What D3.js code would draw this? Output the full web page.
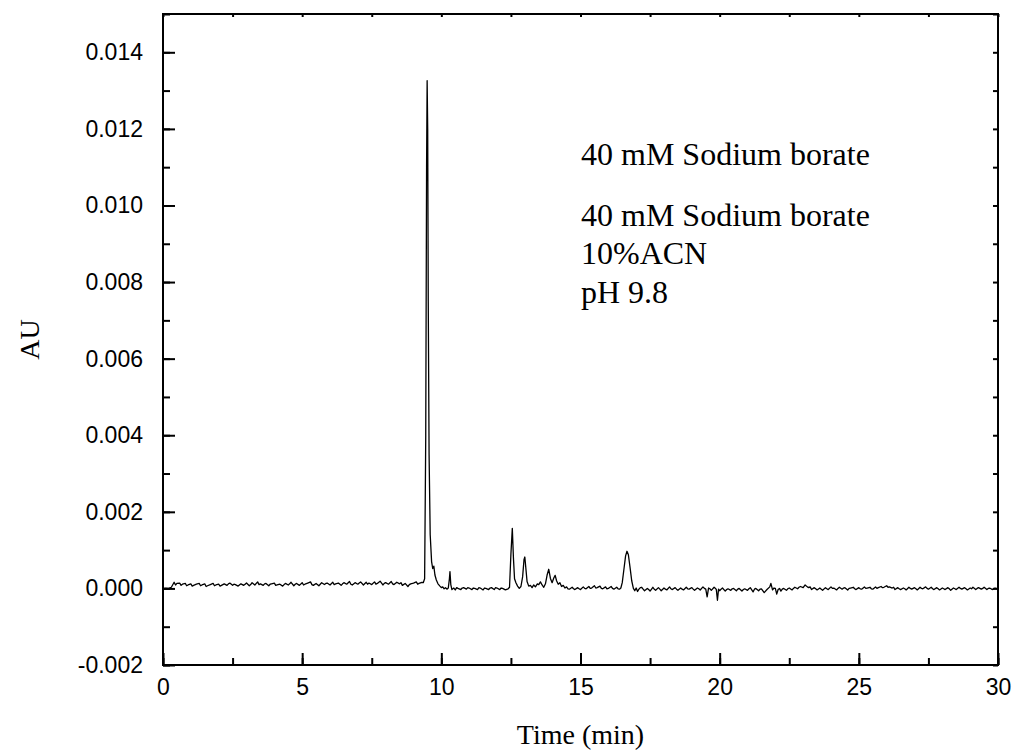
<!DOCTYPE html>
<html>
<head>
<meta charset="utf-8">
<script src="https://cdn.jsdelivr.net/npm/d3@7"></script>
<style>
  body { margin: 0; background: #fff; }
  .tick text { font-family: Arial, "Liberation Sans", sans-serif; font-size: 23px; fill: #000; }
  .domain { display: none; }
</style>
</head>
<body>
<div class="chart"></div>
<script>
// chart values
const xTicks = [0, 5, 10, 15, 20, 25, 30];
const yTicks = [-0.002, 0, 0.002, 0.004, 0.006, 0.008, 0.010, 0.012, 0.014];
const notes = ['40 mM Sodium borate', '40 mM Sodium borate', '10%ACN', 'pH 9.8'];

// [time (min), AU]
const trace = [
  [0,0.0],[0.1,0.00001],[0.2,0.0],[0.3,0.00003],[0.4,0.00016],[0.45,0.00009],[0.5,0.00013],[0.6,0.00014],[0.65,0.00008],[0.7,0.00011],
  [0.8,0.00013],[0.85,0.00007],[0.9,0.00009],[1.0,0.00012],[1.05,0.00006],[1.1,0.00008],[1.2,0.00011],[1.3,0.00013],[1.35,0.00007],[1.4,0.00009],
  [1.5,0.00012],[1.55,0.00005],[1.6,0.00007],[1.7,0.0001],[1.8,0.00013],[1.85,0.00007],[1.9,0.00009],[2.0,0.00011],[2.05,0.00006],[2.1,0.00008],
  [2.2,0.00012],[2.3,0.00008],[2.35,0.00012],[2.4,0.00014],[2.5,0.00008],[2.55,0.00011],[2.6,0.0001],[2.7,0.00006],[2.8,0.00012],
  [2.9,0.00008],[2.95,0.00011],[3.0,0.00014],[3.1,0.00007],[3.15,0.0001],[3.2,0.00015],[3.3,0.00009],[3.4,0.00017],[3.45,0.0001],[3.5,0.00012],
  [3.6,0.00008],[3.65,0.00012],[3.7,0.00013],[3.8,0.00007],[3.85,0.00011],[3.9,0.00012],[4.0,0.00014],[4.05,0.00008],[4.1,0.00009],[4.2,0.00011],
  [4.3,0.00006],[4.35,0.0001],[4.4,0.00013],[4.5,0.00009],[4.55,0.00012],[4.6,0.00016],[4.7,0.00007],[4.75,0.00011],[4.8,0.00013],[4.9,0.00008],
  [5.0,0.00015],[5.05,0.00009],[5.1,0.00011],[5.2,0.00014],[5.3,0.00017],[5.35,0.0001],[5.4,0.00008],[5.5,0.00013],[5.6,0.00007],[5.65,0.00011],
  [5.7,0.00015],[5.8,0.0001],[5.85,0.00013],[5.9,0.00014],[6.0,0.00009],[6.1,0.00016],[6.15,0.0001],[6.2,0.00012],[6.3,0.00014],
  [6.4,0.00008],[6.45,0.00012],[6.5,0.00015],[6.6,0.00011],[6.7,0.00018],[6.75,0.00011],[6.8,0.00009],[6.9,0.00015],[7.0,0.00011],[7.05,0.00014],
  [7.1,0.00017],[7.2,0.00009],[7.3,0.00016],[7.35,0.00011],[7.4,0.00014],[7.5,0.0001],[7.6,0.00017],[7.65,0.00011],[7.7,0.00013],
  [7.8,0.00019],[7.9,0.00009],[7.95,0.00013],[8.0,0.00015],[8.1,0.00011],[8.2,0.00018],[8.25,0.00012],[8.3,0.0001],[8.4,0.00016],
  [8.5,0.00012],[8.55,0.00015],[8.6,0.00008],[8.7,0.00013],[8.8,0.00005],[8.85,0.0001],[8.9,0.00012],[9.0,0.00014],[9.1,0.00017],
  [9.15,0.00011],[9.2,0.00013],[9.3,0.00016],[9.35,0.00015],
  [9.40,0.00025],[9.44,0.004],[9.47,0.011],[9.49,0.01326],[9.51,0.012],[9.53,0.0075],[9.56,0.0035],
  [9.60,0.0014],[9.65,0.0007],[9.69,0.00052],[9.73,0.00058],[9.77,0.00035],[9.82,0.00022],
  [9.88,0.00012],[9.95,0.00006],[10.0,0.00002],[10.05,0.00004],[10.1,-0.00001],[10.15,0.00002],
  [10.2,-0.00002],[10.25,0.00001],[10.29,0.00025],[10.31,0.00044],[10.34,0.0001],[10.38,-0.00003],
  [10.45,0.00001],[10.5,-0.00004],[10.55,0.00002],[10.6,0.0],[10.7,-0.00003],[10.75,0.00001],[10.8,0.00002],[10.9,-0.00002],
  [10.95,0.00002],[11.0,0.00001],[11.1,-0.00003],[11.15,0.00001],[11.2,0.0],[11.3,-0.00003],[11.35,0.00002],[11.4,0.00001],[11.5,-0.00004],
  [11.55,0.00001],[11.6,0.0],[11.7,-0.00003],[11.75,0.00001],[11.8,0.00002],[11.9,-0.00003],[11.95,0.00002],[12.0,0.00001],[12.1,-0.00003],
  [12.15,0.00001],[12.2,0.0],[12.3,-0.00004],[12.4,-0.00001],[12.45,0.00003],
  [12.5,0.0009],[12.55,0.00157],[12.59,0.0008],[12.63,0.00025],[12.68,0.00015],[12.74,0.00006],
  [12.8,0.0],[12.86,0.00005],[12.92,0.0003],[12.97,0.00075],[13.0,0.00082],[13.04,0.0005],
  [13.08,0.00018],[13.14,0.00006],[13.2,0.00008],[13.26,0.00002],[13.32,0.00009],[13.38,0.00004],
  [13.45,0.00012],[13.5,0.0001],[13.56,0.00017],[13.62,0.00009],[13.68,0.00003],[13.74,0.00012],
  [13.8,0.00035],[13.86,0.0005],[13.92,0.00026],[13.98,0.00015],[14.04,0.00027],[14.09,0.00034],
  [14.14,0.0002],[14.2,0.00011],[14.26,0.00015],[14.32,0.00005],[14.38,0.00008],[14.44,0.00001],
  [14.5,0.00004],[14.55,-0.00001],[14.6,-0.00002],[14.7,0.00003],[14.75,-0.00001],[14.8,-0.00003],[14.9,0.00002],[14.95,-0.00001],[15.0,-0.00003],
  [15.1,0.00004],[15.15,0.0],[15.2,-0.00001],[15.3,0.00005],[15.35,0.0],[15.4,0.00001],[15.5,0.00007],[15.55,0.00001],[15.6,0.00002],
  [15.7,0.00006],[15.75,0.0],[15.8,-0.00001],[15.9,0.00004],[15.95,-0.00001],[16.0,0.0],[16.1,0.00005],[16.15,0.0],[16.2,-0.00002],
  [16.3,0.00003],[16.35,-0.00001],[16.4,-0.00002],[16.45,0.00001],
  [16.5,0.00015],[16.56,0.0005],[16.62,0.00085],[16.67,0.00097],[16.72,0.00088],[16.78,0.00055],
  [16.84,0.0002],[16.9,0.0],[16.95,-0.00006],[17.0,0.00001],[17.05,-0.00008],[17.1,-0.00002],[17.15,0.00002],
  [17.2,0.00003],[17.25,-0.00002],[17.3,-0.00006],[17.4,0.0],[17.45,-0.00003],[17.5,-0.00007],[17.6,0.00003],[17.65,-0.00002],[17.7,-0.00005],
  [17.8,0.00002],[17.85,-0.00002],[17.9,-0.00006],[18.0,0.00001],[18.05,-0.00002],[18.1,-0.00004],[18.2,0.00004],[18.25,-0.00001],[18.3,-0.00003],
  [18.4,0.00002],[18.45,-0.00002],[18.5,-0.00005],[18.6,0.00001],[18.65,-0.00002],[18.7,-0.00004],[18.8,0.00003],[18.85,-0.00001],[18.9,-0.00002],
  [19.0,0.00002],[19.05,-0.00002],[19.1,-0.00005],[19.2,0.00001],[19.25,-0.00001],[19.3,-0.00004],[19.4,0.00004],[19.45,0.0],[19.5,-0.00002],
  [19.55,-0.00022],[19.6,0.00001],[19.65,-0.00001],[19.7,-0.00005],[19.8,0.00003],[19.85,0.0],[19.88,-0.00003],[19.92,-0.00031],
  [19.96,-0.00002],[20.0,-0.00006],[20.05,-0.00002],[20.1,0.00001],[20.2,-0.00007],[20.25,-0.00003],[20.3,-0.00001],[20.4,-0.00005],
  [20.45,-0.00001],[20.5,0.0],[20.6,-0.00006],[20.65,-0.00002],[20.7,0.0],[20.8,-0.00007],[20.85,-0.00003],[20.9,-0.00001],[21.0,-0.00005],
  [21.05,-0.00001],[21.1,0.00002],[21.2,-0.00009],[21.25,-0.00002],[21.3,0.0],[21.4,-0.00006],[21.45,-0.00002],[21.5,-0.00001],[21.6,-0.00011],
  [21.7,-0.00003],[21.8,0.00004],[21.84,0.00013],[21.9,-0.00004],[21.95,0.00001],[22.0,0.0],[22.05,-0.00015],
  [22.1,-0.00003],[22.15,0.0],[22.2,-0.00007],[22.25,-0.00002],[22.3,0.0],[22.4,-0.00005],[22.45,-0.00001],[22.5,0.00001],[22.6,-0.00004],
  [22.65,0.0],[22.7,0.00003],[22.8,-0.00001],[22.85,0.00003],[22.9,0.00005],[23.0,0.00002],[23.07,0.00009],[23.15,0.00004],
  [23.2,0.00002],[23.25,0.00004],[23.3,-0.00003],[23.4,0.00002],[23.45,-0.00001],[23.5,-0.00004],[23.6,0.00001],[23.65,-0.00002],[23.7,-0.00005],
  [23.8,0.00002],[23.85,-0.00001],[23.9,-0.00003],[24.0,0.00004],[24.05,0.0],[24.1,0.00001],[24.2,-0.00004],[24.25,0.0],[24.3,0.00003],
  [24.4,-0.00002],[24.45,0.00001],[24.5,0.00002],[24.6,-0.00004],[24.65,0.0],[24.7,0.00001],[24.8,0.00003],[24.85,-0.00001],[24.9,-0.00003],
  [25.0,0.00002],[25.05,-0.00001],[25.1,-0.00002],[25.2,0.00004],[25.25,0.0],[25.3,0.00001],[25.4,0.00003],[25.45,-0.00001],[25.5,-0.00002],
  [25.6,0.00004],[25.65,0.0],[25.7,0.00002],[25.8,0.00005],[25.85,0.00002],[25.9,0.00003],[26.0,0.00007],[26.05,0.00003],[26.1,0.00004],
  [26.2,0.00001],[26.25,0.00003],[26.3,-0.00003],[26.4,0.00002],[26.45,-0.00001],[26.5,-0.00003],[26.6,0.00001],[26.65,-0.00001],[26.7,-0.00004],
  [26.8,0.00003],[26.85,0.0],[26.9,-0.00002],[27.0,0.00002],[27.05,-0.00001],[27.1,-0.00004],[27.2,0.00003],[27.25,0.0],[27.3,-0.00001],
  [27.4,0.00004],[27.45,0.0],[27.5,-0.00002],[27.6,0.00003],[27.65,-0.00001],[27.7,-0.00003],[27.8,0.00002],[27.85,-0.00001],[27.9,-0.00004],
  [28.0,0.00001],[28.05,-0.00001],[28.1,-0.00003],[28.2,0.00002],[28.25,-0.00001],[28.3,-0.00005],[28.4,0.00001],[28.45,-0.00001],[28.5,-0.00003],
  [28.6,0.00003],[28.65,0.0],[28.7,-0.00002],[28.8,0.00002],[28.85,-0.00001],[28.9,-0.00004],[29.0,0.00001],[29.05,-0.00001],[29.1,0.00003],
  [29.2,-0.00003],[29.25,0.0],[29.3,0.00002],[29.4,-0.00002],[29.45,0.0],[29.5,0.00003],[29.6,-0.00003],[29.65,0.0],[29.7,0.00001],
  [29.8,-0.00003],[29.85,0.0],[29.9,0.00001],[30.0,-0.00001]
];

const margin = { top: 14, right: 17, bottom: 86, left: 163 };
const width = 1015 - margin.left - margin.right;
const height = 751 - margin.top - margin.bottom;

const svg = d3.select('.chart')
  .append('svg')
  .attr('width', 1015)
  .attr('height', 751);
const g = svg.append('g')
  .attr('transform', `translate(${margin.left},${margin.top})`);

const x = d3.scaleLinear().domain([0, 30]).range([0, width]);
const y = d3.scaleLinear().domain([-0.002, 0.015]).range([height, 0]);

const xMinor = d3.range(0, 30.01, 2.5);
const yMinor = d3.range(-0.002, 0.0151, 0.001);

// minor ticks (no labels), all four sides
g.append('g').attr('transform', `translate(0,${height})`)
  .call(d3.axisBottom(x).tickValues(xMinor).tickSize(-7).tickFormat(''));
g.append('g')
  .call(d3.axisLeft(y).tickValues(yMinor).tickSize(-7).tickFormat(''));
g.append('g').attr('transform', `translate(${width},0)`)
  .call(d3.axisRight(y).tickValues(yMinor).tickSize(-5).tickFormat(''));
g.append('g')
  .call(d3.axisTop(x).tickValues(xMinor).tickSize(-3).tickFormat(''));

// major ticks with labels
g.append('g').attr('transform', `translate(0,${height})`)
  .call(d3.axisBottom(x).tickValues(xTicks).tickSize(-12).tickPadding(14).tickFormat(d3.format('d')));
g.append('g')
  .call(d3.axisLeft(y).tickValues(yTicks).tickSize(-12).tickPadding(20).tickFormat(d => d3.format('.3f')(d).replace('−', '-')));

g.selectAll('.tick line').attr('stroke', '#000').attr('stroke-width', 2);

// frame
g.append('rect')
  .attr('width', width).attr('height', height)
  .attr('fill', 'none').attr('stroke', '#000').attr('stroke-width', 2);

// trace
const line = d3.line().x(d => x(d[0])).y(d => y(d[1]));
g.append('path')
  .datum(trace)
  .attr('d', line)
  .attr('fill', 'none')
  .attr('stroke', '#000')
  .attr('stroke-width', 1.3)
  .attr('stroke-linejoin', 'round');

// axis titles
const serif = '"Liberation Serif", "Times New Roman", serif';
svg.append('text')
  .attr('x', margin.left + width / 2).attr('y', 744)
  .attr('text-anchor', 'middle')
  .style('font-family', serif).style('font-size', '28px')
  .text('Time (min)');
svg.append('text')
  .attr('transform', `translate(39,${margin.top + height / 2}) rotate(-90)`)
  .attr('text-anchor', 'middle')
  .style('font-family', serif).style('font-size', '28px')
  .text('AU');

// annotation
const noteY = [165, 226, 264, 303];
svg.append('g').selectAll('text')
  .data(notes)
  .enter()
  .append('text')
  .attr('x', 581)
  .attr('y', (d, i) => noteY[i])
  .style('font-family', serif).style('font-size', '32px')
  .text(d => d);
</script>
</body>
</html>
